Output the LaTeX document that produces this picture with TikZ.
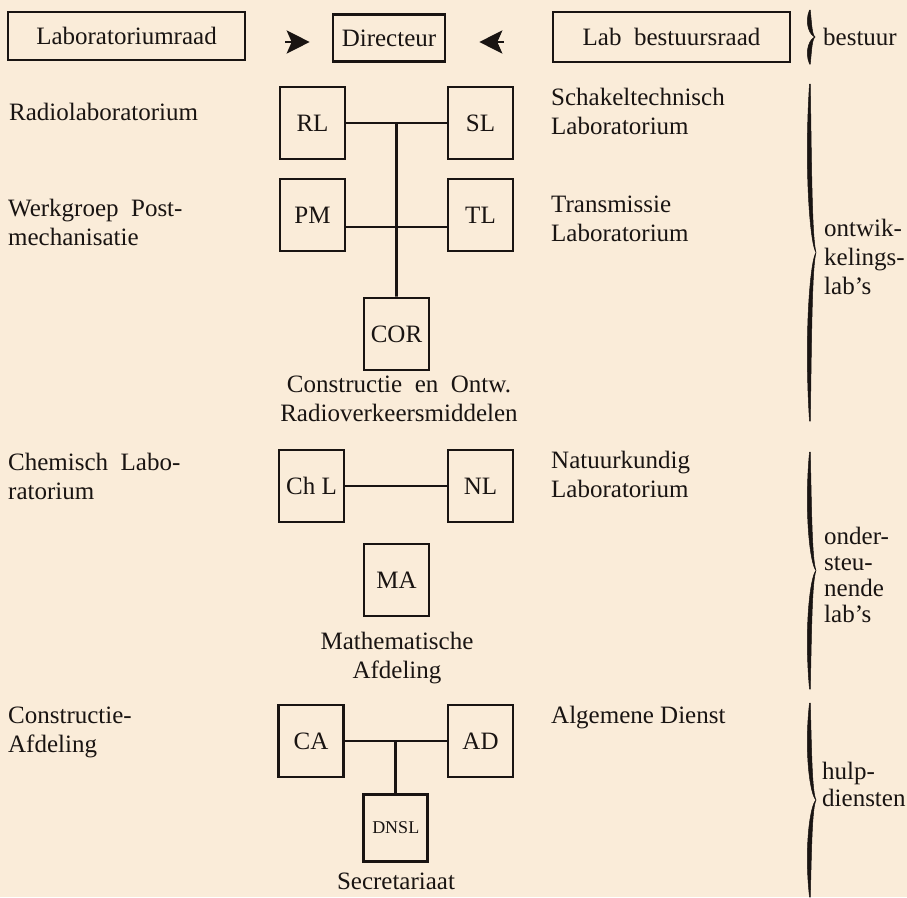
\documentclass[tikz,border=0pt]{standalone}
\usepackage{fontspec}
\setmainfont{Liberation Serif}
\usetikzlibrary{arrows.meta,calc}
\definecolor{paper}{RGB}{250,236,217}
\definecolor{ink}{RGB}{25,20,18}
% tapered curly brace: x, y-top, y-bottom (tip points right)
\newcommand\tbrace[4][7]{%
 \pgfmathsetmacro\tbH{(#4-#3)/2}%
 \pgfmathsetmacro\tbM{#3+\tbH}%
 \fill[ink,draw=ink,line width=0.5pt] (#2+0.5,#3)
   .. controls (#2-5,#3+0.5*\tbH) and (#2+1,\tbM-0.05*\tbH) .. (#2+#1,\tbM)
   .. controls (#2+1,\tbM+0.05*\tbH) and (#2-5,#4-0.5*\tbH) .. (#2+0.5,#4)
   -- (#2+1.3,#4)
   .. controls (#2+2.6,#4-0.5*\tbH) and (#2+3,\tbM+0.09*\tbH) .. (#2+#1,\tbM)
   .. controls (#2+3,\tbM-0.09*\tbH) and (#2+2.6,#3+0.5*\tbH) .. (#2+1.3,#3)
   -- cycle;}
\begin{document}
\begin{tikzpicture}[x=1pt,y=-1pt,
  every node/.style={font=\fontsize{25}{29}\selectfont,text=ink},
  box/.style={draw=ink,line width=2.6pt,inner sep=0pt},
  sq/.style={box,minimum width=65pt,minimum height=72pt},
  lbl/.style={anchor=north west,align=left,inner sep=0pt},
  captxt/.style={anchor=north,align=center,inner sep=0pt},
  ln/.style={draw=ink,line width=2.6pt},
  tip/.style={draw=ink,fill=ink,line width=2.6pt,-{Stealth[length=23pt,width=23pt,inset=5pt]}}]
\fill[paper] (0,0) rectangle (907,897);
\useasboundingbox (0,0) rectangle (907,897);

% top row
\node[box,minimum width=237pt,minimum height=48pt] (lr) at (126.5,36) {Laboratoriumraad};
\node[box,minimum width=112pt,minimum height=47pt] (dir) at (389,38) {Directeur};
\node[box,minimum width=237pt,minimum height=50pt] (lb) at (671.5,37) {Lab\ \ bestuursraad};
\draw[tip,shorten <=39pt,shorten >=22pt] ($(lr.east)+(0,6)$) -- ($(dir.west)+(0,4)$);
\draw[tip,shorten <=48pt,shorten >=33pt] ($(lb.west)+(0,5)$) -- ($(dir.east)+(0,4)$);

% development labs
\node[sq] (RL) at (312.5,123) {RL};
\node[sq] (SL) at (480.5,123) {SL};
\node[sq] (PM) at (312.5,215) {PM};
\node[sq] (TL) at (480.5,215) {TL};
\node[sq] (COR) at (396.5,334) {COR};
\coordinate (j1) at ($(RL.east)!0.5!(SL.west)$);
\draw[ln] (RL.east) -- (SL.west);
\draw[ln] ($(PM.east)+(0,12)$) -- ($(TL.west)+(0,12)$);
\draw[ln] (j1) -- (COR.north);

% supporting labs
\node[sq] (ChL) at (311.5,486) {Ch L};
\node[sq] (NL) at (480.5,486) {NL};
\node[sq] (MA) at (396.5,580) {MA};
\draw[ln] (ChL.east) -- (NL.west);

% services
\node[sq] (CA) at (311,741) {CA};
\node[sq] (AD) at (480.5,741) {AD};
\coordinate (j3) at ($(CA.east)!0.5!(AD.west)$);
\node[sq,minimum width=64pt,minimum height=67pt,font=\fontsize{18}{20}\selectfont] (DNSL) at (j3 |- 0,828) {DNSL};
\draw[ln] (CA.east) -- (AD.west);
\draw[ln] (j3) -- (DNSL.north);

% captions under boxes
\node[captxt] (corcap) at (399,376) {Constructie\ \ en\ \ Ontw.\\Radioverkeersmiddelen};
\node[captxt] (macap) at (397,632) {Mathematische\\Afdeling};
\node[captxt] (dnslcap) at (396,873) {Secretariaat};

% left labels
\node[lbl] (l1) at (9,103) {Radiolaboratorium};
\node[lbl] (l2) at (8,199) {Werkgroep\ \ Post-\\mechanisatie};
\node[lbl] (l3) at (8,453) {Chemisch\ \ Labo-\\ratorium};
\node[lbl] (l4) at (8,707) {Constructie-\\Afdeling};

% right labels
\node[lbl] (r1) at (551,88) {Schakeltechnisch\\Laboratorium};
\node[lbl] (r2) at (551,196) {Transmissie\\Laboratorium};
\node[lbl] (r3) at (551,451) {Natuurkundig\\Laboratorium};
\node[lbl] (r4) at (551,706) {Algemene Dienst};

% braces
\tbrace[6]{809}{10}{64}
\tbrace{809}{84}{421}
\tbrace{809}{452}{689}
\tbrace{809}{703}{897}
\node[lbl] (b1) at (823,28) {bestuur};
\node[lbl] (b2) at (824,219) {ontwik-\\kelings-\\lab's};
\node[lbl,font=\fontsize{25}{26}\selectfont] (b3) at (824,527) {onder-\\steu-\\nende\\lab's};
\node[lbl,font=\fontsize{25}{27}\selectfont] (b4) at (822,762) {hulp-\\diensten};
\end{tikzpicture}
\end{document}
